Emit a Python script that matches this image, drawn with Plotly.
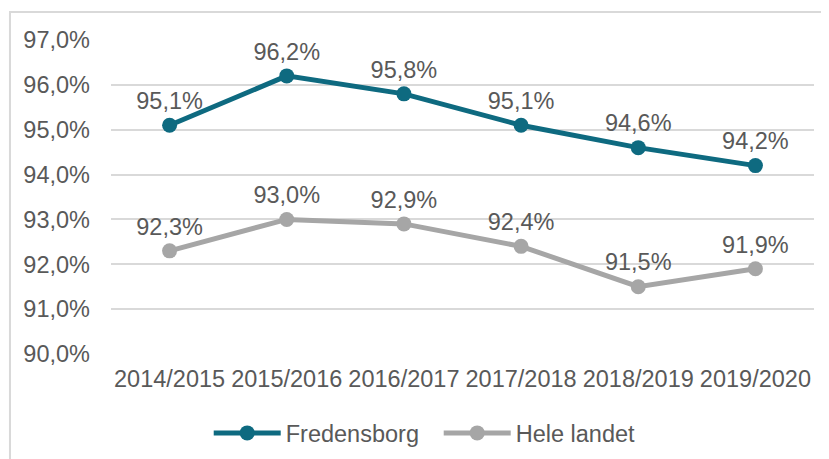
import plotly.graph_objects as go

years = ["2014/2015", "2015/2016", "2016/2017", "2017/2018", "2018/2019", "2019/2020"]
fredensborg = [95.1, 96.2, 95.8, 95.1, 94.6, 94.2]
hele_landet = [92.3, 93.0, 92.9, 92.4, 91.5, 91.9]
y_ticks = [90, 91, 92, 93, 94, 95, 96, 97]
y_tick_labels = ["90,0%", "91,0%", "92,0%", "93,0%", "94,0%", "95,0%", "96,0%", "97,0%"]

FONT = "Liberation Sans, Arial, sans-serif"
TXT = "#595959"

fig = go.Figure()
for name, vals, col in [("Fredensborg", fredensborg, "#0E6A80"),
                        ("Hele landet", hele_landet, "#A6A6A6")]:
    fig.add_trace(go.Scatter(
        x=years, y=vals, name=name, mode="lines+markers+text",
        line=dict(color=col, width=5),
        marker=dict(color=col, size=15),
        text=vals, texttemplate="%{y:.1f}%", textposition="top center",
        textfont=dict(family=FONT, size=23.5, color=TXT),
        cliponaxis=False,
    ))

fig.update_layout(
    width=821, height=451,
    margin=dict(l=103, r=15, t=32, b=105, autoexpand=False),
    paper_bgcolor="white", plot_bgcolor="white",
    separators=", ",
    font=dict(family=FONT, size=23.5, color=TXT),
    showlegend=True,
    legend=dict(orientation="h", x=0.139, xanchor="left", y=-0.252, yanchor="middle",
                entrywidth=148, entrywidthmode="pixels",
                font=dict(family=FONT, size=23.5, color=TXT), itemwidth=67),
    shapes=[dict(type="rect", xref="paper", yref="paper",
                 x0=-0.1437, x1=1.2, y0=-0.6, y1=1.089,
                 line=dict(color="#D9D9D9", width=2), fillcolor="rgba(0,0,0,0)", layer="below")],
)
fig.update_xaxes(type="category", range=[-0.5, 5.5], showgrid=False, showline=False,
                 ticks="", ticklabelstandoff=8, tickfont=dict(size=23.5, color=TXT))
fig.update_yaxes(range=[90, 97], tickmode="array", tickvals=y_ticks, ticktext=y_tick_labels,
                 showgrid=True, gridcolor="#D9D9D9", gridwidth=1.5, zeroline=False,
                 showline=False, ticks="", ticklabelstandoff=20,
                 tickfont=dict(size=23.5, color=TXT))

fig.write_html("out.html")
